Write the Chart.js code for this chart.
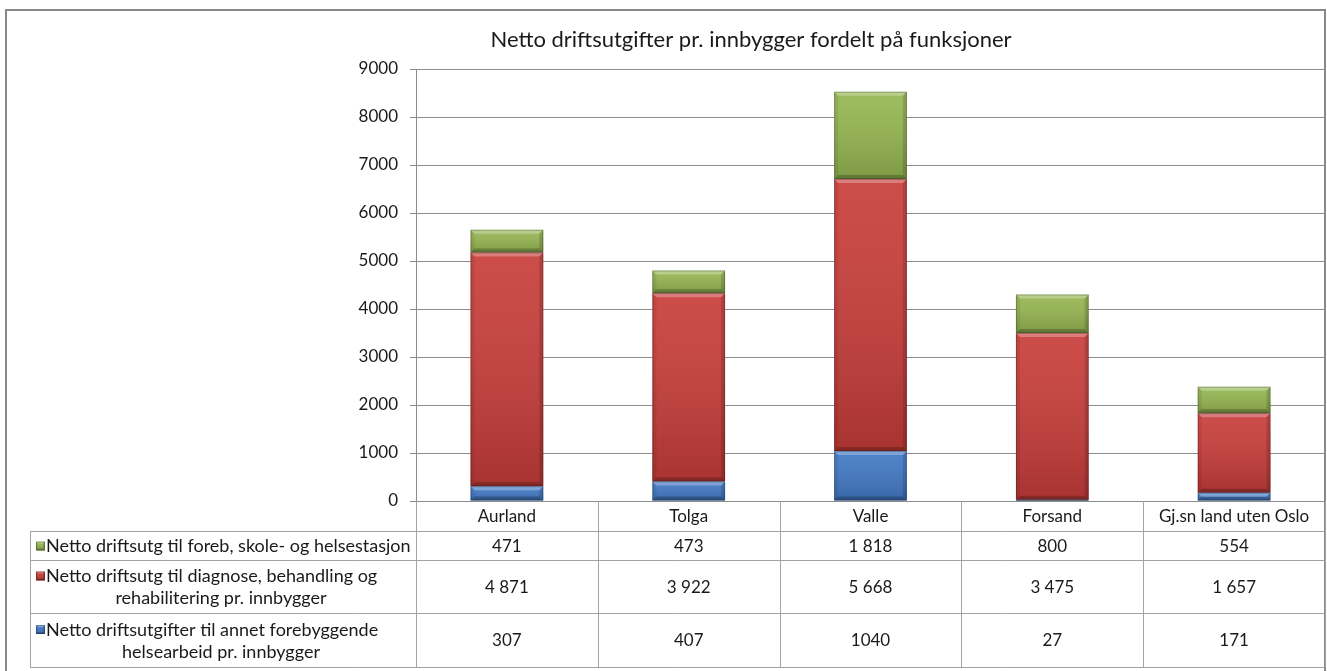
<!DOCTYPE html>
<html>
<head>
<meta charset="utf-8">
<title>Netto driftsutgifter pr. innbygger</title>
<script src="https://cdn.jsdelivr.net/npm/chart.js@4.4.1/dist/chart.umd.min.js"></script>
<style>
  html, body { margin: 0; padding: 0; background: #ffffff; }
  #wrap { width: 1327px; height: 671px; position: relative; }
</style>
</head>
<body>
<div id="wrap"><canvas id="c" width="1327" height="671"></canvas></div>
<script>
// ---- data ----
const titleText = 'Netto driftsutgifter pr. innbygger fordelt på funksjoner';
const categories = ['Aurland', 'Tolga', 'Valle', 'Forsand', 'Gj.sn land uten Oslo'];

const annetForebyggende = [307, 407, 1040, 27, 171];
const diagnoseBehandling = [4871, 3922, 5668, 3475, 1657];
const forebSkoleHelse = [471, 473, 1818, 800, 554];

const yTicks = [0, 1000, 2000, 3000, 4000, 5000, 6000, 7000, 8000, 9000];

// legend text, split into the lines shown in the table cells
const nameAnnet = ['Netto driftsutgifter til annet forebyggende', 'helsearbeid pr. innbygger'];
const nameDiagnose = ['Netto driftsutg til diagnose, behandling og', 'rehabilitering pr. innbygger'];
const nameForeb = ['Netto driftsutg til foreb, skole- og helsestasjon'];

const FONT = 'Lato, "Open Sans", "Liberation Sans", sans-serif';
const TEXT = '#1a1a1a';
const GRID = '#8c8c8c';
const TABLE_LINE = '#a3a3a3';

const colBlue = '#4279c6';
const colRed = '#c83d3a';
const colGreen = '#95b651';

function fmtGrouped(v) {
  return String(v).replace(/\B(?=(\d{3})+(?!\d))/g, '\u00a0');
}

// ---- helpers ----
function poly(ctx, pts, fill) {
  ctx.beginPath();
  ctx.moveTo(pts[0][0], pts[0][1]);
  for (let i = 1; i < pts.length; i++) ctx.lineTo(pts[i][0], pts[i][1]);
  ctx.closePath();
  ctx.fillStyle = fill;
  ctx.fill();
}

function bevelBox(ctx, l, t, w, h, maxEdge) {
  const r = l + w, b = t + h;
  if (h < 0.5) return;
  const g = ctx.createLinearGradient(0, t, 0, b);
  g.addColorStop(0, 'rgba(255,255,255,0.08)');
  g.addColorStop(1, 'rgba(0,0,0,0.16)');
  ctx.fillStyle = g;
  ctx.fillRect(l, t, w, h);
  const e = Math.min(maxEdge, h / 2, w / 2);
  poly(ctx, [[l, t], [r, t], [r - e, t + e], [l + e, t + e]], 'rgba(255,255,255,0.28)');
  poly(ctx, [[l, b], [r, b], [r - e, b - e], [l + e, b - e]], 'rgba(0,0,0,0.22)');
  poly(ctx, [[l, t], [l + e, t + e], [l + e, b - e], [l, b]], 'rgba(0,0,0,0.07)');
  poly(ctx, [[r, t], [r - e, t + e], [r - e, b - e], [r, b]], 'rgba(0,0,0,0.14)');
  ctx.strokeStyle = 'rgba(0,0,0,0.22)';
  ctx.lineWidth = 1;
  ctx.strokeRect(l + 0.5, t + 0.5, Math.max(w - 1, 0), Math.max(h - 1, 0));
}

// ---- plugins ----
const bevelPlugin = {
  id: 'bevel',
  afterDatasetsDraw(chart) {
    const ctx = chart.ctx;
    chart.data.datasets.forEach((ds, di) => {
      const meta = chart.getDatasetMeta(di);
      if (meta.hidden) return;
      meta.data.forEach(el => {
        const p = el.getProps(['x', 'y', 'base', 'width'], true);
        const t = Math.min(p.y, p.base), b = Math.max(p.y, p.base);
        ctx.save();
        bevelBox(ctx, p.x - p.width / 2, t, p.width, b - t, 4);
        ctx.restore();
      });
    });
  }
};

const framePlugin = {
  id: 'frame',
  beforeDraw(chart) {
    const ctx = chart.ctx;
    ctx.save();
    ctx.fillStyle = '#ffffff';
    ctx.fillRect(0, 0, chart.width, chart.height);
    ctx.restore();
  },
  afterDraw(chart) {
    const ctx = chart.ctx;
    ctx.save();
    // title
    ctx.fillStyle = TEXT;
    ctx.font = '22px ' + FONT;
    ctx.textAlign = 'center';
    ctx.textBaseline = 'middle';
    ctx.fillText(titleText, 751, 40);
    // outer frame
    ctx.strokeStyle = '#888888';
    ctx.lineWidth = 2;
    ctx.strokeRect(6, 10, 1319, 720);
    ctx.restore();
  }
};

const tablePlugin = {
  id: 'dataTable',
  afterDraw(chart) {
    const ctx = chart.ctx;
    const ca = chart.chartArea;
    const xs = chart.scales.x;
    const n = categories.length;
    const cw = (ca.right - ca.left) / n;
    const legendLeft = 30;
    const headerH = 30;
    const rowH = [29, 53, 54];
    const rows = [
      { name: nameForeb, color: colGreen, values: forebSkoleHelse, fmt: fmtGrouped },
      { name: nameDiagnose, color: colRed, values: diagnoseBehandling, fmt: fmtGrouped },
      { name: nameAnnet, color: colBlue, values: annetForebyggende, fmt: v => String(v) }
    ];

    const top0 = ca.bottom;
    const rowTops = [top0 + headerH];
    rowH.forEach((h, i) => rowTops.push(rowTops[i] + h));
    const bottom = rowTops[rowTops.length - 1];

    ctx.save();
    ctx.strokeStyle = TABLE_LINE;
    ctx.lineWidth = 1;
    // vertical lines between category columns
    for (let i = 0; i <= n; i++) {
      const x = Math.round(ca.left + i * cw) + 0.5;
      ctx.beginPath();
      ctx.moveTo(x, top0);
      ctx.lineTo(x, bottom);
      ctx.stroke();
    }
    // legend column left edge
    ctx.beginPath();
    ctx.moveTo(legendLeft + 0.5, rowTops[0]);
    ctx.lineTo(legendLeft + 0.5, bottom);
    ctx.stroke();
    // horizontal row lines
    rowTops.forEach(y => {
      const yy = Math.round(y) + 0.5;
      ctx.beginPath();
      ctx.moveTo(legendLeft, yy);
      ctx.lineTo(ca.right, yy);
      ctx.stroke();
    });

    // values and legend keys
    ctx.textBaseline = 'middle';
    rows.forEach((row, ri) => {
      const yt = rowTops[ri], yb = rowTops[ri + 1];
      const ym = (yt + yb) / 2;
      ctx.fillStyle = TEXT;
      ctx.font = '17px ' + FONT;
      ctx.textAlign = 'center';
      row.values.forEach((v, ci) => {
        ctx.fillText(row.fmt(v), xs.getPixelForValue(ci), ym + 1);
      });

      const lineH = 22;
      const nl = row.name.length;
      const firstY = ym - (nl - 1) * lineH / 2;
      const cellMid = (legendLeft + ca.left) / 2;
      // key square
      ctx.fillStyle = row.color;
      ctx.fillRect(36, firstY - 4, 9, 9);
      bevelBox(ctx, 36, firstY - 4, 9, 9, 2);
      ctx.fillStyle = TEXT;
      ctx.font = '18px ' + FONT;
      ctx.textAlign = 'left';
      ctx.fillText(row.name[0], 46, firstY + 1);
      ctx.textAlign = 'center';
      for (let li = 1; li < nl; li++) {
        ctx.fillText(row.name[li], cellMid - 2, firstY + li * lineH + 1);
      }
    });
    ctx.restore();
  }
};

// ---- chart ----
new Chart(document.getElementById('c'), {
  type: 'bar',
  data: {
    labels: categories,
    datasets: [
      { label: nameAnnet.join(' '), data: annetForebyggende, backgroundColor: colBlue },
      { label: nameDiagnose.join(' '), data: diagnoseBehandling, backgroundColor: colRed },
      { label: nameForeb.join(' '), data: forebSkoleHelse, backgroundColor: colGreen }
    ]
  },
  options: {
    responsive: false,
    animation: false,
    barPercentage: 0.4,
    categoryPercentage: 1.0,
    layout: { padding: { left: 0, right: 2, top: 69, bottom: 140 } },
    plugins: {
      legend: { display: false },
      tooltip: { enabled: false },
      title: { display: false }
    },
    scales: {
      x: {
        stacked: true,
        grid: { display: false, drawTicks: false },
        border: { display: false },
        ticks: { padding: 5, color: TEXT, font: { family: FONT, size: 17 } },
        afterFit(s) { s.height = 30; }
      },
      y: {
        stacked: true,
        min: 0,
        max: 9000,
        afterBuildTicks(s) { s.ticks = yTicks.map(v => ({ value: v })); },
        ticks: {
          padding: 12,
          color: TEXT,
          font: { family: FONT, size: 17 },
          callback: v => String(v)
        },
        grid: { color: GRID, tickLength: 6, lineWidth: 1 },
        border: { color: GRID, width: 1 },
        afterFit(s) { s.width = 416; }
      }
    }
  },
  plugins: [framePlugin, bevelPlugin, tablePlugin]
});
</script>
</body>
</html>
